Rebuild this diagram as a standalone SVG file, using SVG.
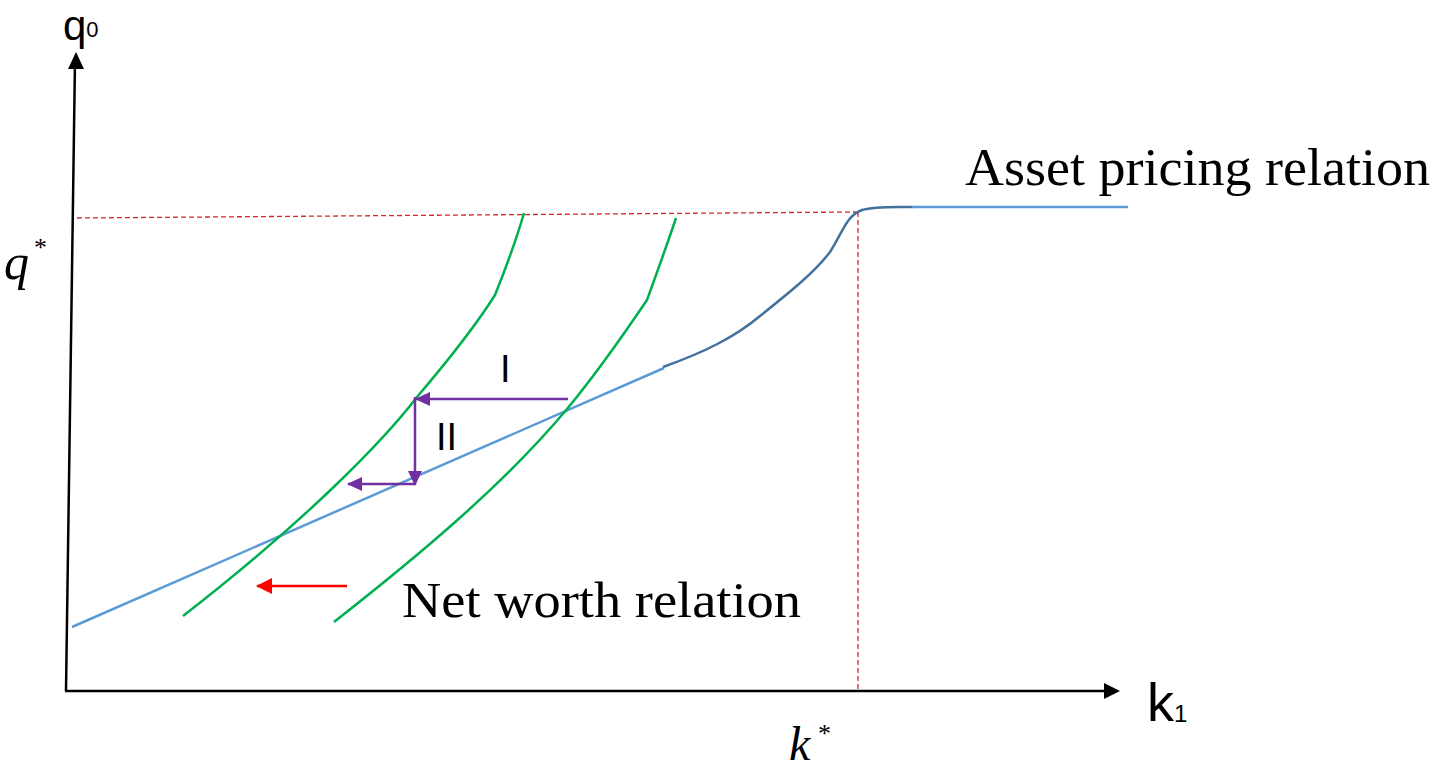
<svg xmlns="http://www.w3.org/2000/svg" width="1434" height="769" viewBox="0 0 1434 769">
<style>
.ax{stroke:#000;stroke-width:2.5;fill:none}
.green{stroke:#00B050;stroke-width:2.5;fill:none}
.lblue{stroke:#5B9BD5;stroke-width:2.5;fill:none}
.dblue{stroke:#41719C;stroke-width:2.5;fill:none}
.purple{stroke:#7030A0;stroke-width:2.5;fill:none}
.dash{stroke:#D02A2A;stroke-width:1.3;fill:none;stroke-dasharray:5,3}
.serif{font-family:"Liberation Serif","Times New Roman",serif;fill:#000}
.sans{font-family:"Liberation Sans",Arial,sans-serif;fill:#000}
</style>
<defs>
<marker id="ap" markerWidth="15" markerHeight="14" refX="14" refY="7" orient="auto" markerUnits="userSpaceOnUse" viewBox="0 0 15 14"><path d="M0,0 L15,7 L0,14 Z" fill="#7030A0"/></marker>
<marker id="ar" markerWidth="16" markerHeight="16" refX="15" refY="8" orient="auto" markerUnits="userSpaceOnUse" viewBox="0 0 16 16"><path d="M0,0 L16,8 L0,16 Z" fill="#FF0000"/></marker>
</defs>
<g id="axes">
<line class="ax" x1="66" y1="691" x2="75" y2="60" />
<path d="M76,52 L68,69 L84,69 Z" fill="#000"/>
<line class="ax" x1="65" y1="691" x2="1106" y2="691"/>
<path d="M1120,691 L1104,683 L1104,699 Z" fill="#000"/>
</g>
<g id="guides">
<line class="dash" x1="77" y1="218" x2="856" y2="212"/>
<line class="dash" x1="858" y1="212" x2="858" y2="690"/>
</g>
<g id="asset-pricing">
<line class="lblue" x1="72" y1="627" x2="664" y2="368"/>
<path class="dblue" d="M663,367 C705,352 735,337 760,316 C790,292 815,272 830,252 C843,232 846,216 862,210 C875,206 895,207 913,207"/>
<line class="lblue" x1="912" y1="207" x2="1128" y2="207"/>
</g>
<g id="net-worth">
<path class="green" d="M183,616 C308,519 384,440 417,397 C446,363 473,330 495,295 C505,270 518,234 524,213"/>
<path class="green" d="M334,622 C413,560 502,487 567,409 C597,373 622,337 647,300 C655,278 670,236 676,218"/>
</g>
<g id="connectors">
<line class="purple" x1="568" y1="399" x2="416" y2="399" marker-end="url(#ap)"/>
<line class="purple" x1="415" y1="397" x2="415" y2="485" marker-end="url(#ap)"/>
<line class="purple" x1="415" y1="484" x2="348" y2="484" marker-end="url(#ap)"/>
<line stroke="#FF0000" stroke-width="2.5" x1="347" y1="586" x2="257" y2="586" marker-end="url(#ar)"/>
</g>
<g id="labels">
<text class="sans" x="63" y="40" font-size="42">q<tspan font-size="22" dy="-3">0</tspan></text>
<text class="serif" x="4" y="279" font-size="50" font-style="italic">q</text>
<text class="serif" x="34" y="256" font-size="26">*</text>
<text class="serif" x="965" y="185" font-size="52" textLength="465" lengthAdjust="spacingAndGlyphs">Asset pricing relation</text>
<text class="serif" x="402" y="617" font-size="51" textLength="399" lengthAdjust="spacingAndGlyphs">Net worth relation</text>
<text class="sans" x="500" y="382" font-size="38">I</text>
<text class="sans" x="436" y="450" font-size="38">II</text>
<text class="sans" x="1147" y="721" font-size="54">k<tspan font-size="24" dy="1">1</tspan></text>
<text class="serif" x="789" y="760" font-size="48" font-style="italic">k</text>
<text class="serif" x="818" y="742" font-size="26">*</text>
</g>
</svg>
